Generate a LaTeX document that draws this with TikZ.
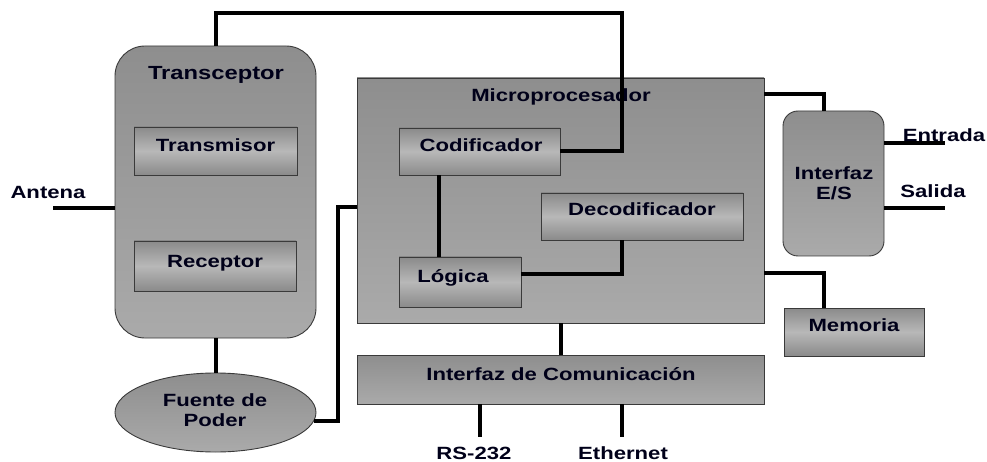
\documentclass[tikz,border=0pt]{standalone}
\usepackage{fontspec}
\setmainfont{Liberation Sans}[FakeStretch=1.25]
\usetikzlibrary{shapes.geometric}
\definecolor{outtop}{HTML}{8E8E8E}
\definecolor{outbot}{HTML}{AAAAAA}
\definecolor{inedge}{HTML}{8A8A8A}
\definecolor{inmid}{HTML}{B8B8B8}
\definecolor{edge}{HTML}{3A3A3A}
\tikzset{
  outer/.style={draw=edge, line width=0.9pt, top color=outtop, bottom color=outbot, inner sep=0pt},
  inner/.style={draw=edge, line width=0.9pt, top color=inedge, bottom color=inedge, middle color=inmid, inner sep=0pt},
  wire/.style={line width=4pt, black},
  txt/.style={anchor=base, inner sep=0pt, font=\fontsize{17.7}{20}\selectfont\bfseries, text=black!90!blue},
}
\begin{document}
\begin{tikzpicture}[x=1pt,y=-1pt]
\useasboundingbox (0,0) rectangle (987,462);
% boxes
\node[outer, rounded corners=30pt, minimum width=201pt, minimum height=292pt] (trans) at (215.5,192) {};
\node[inner, minimum width=163pt, minimum height=48pt] (tx) at (215.5,151) {};
\node[inner, minimum width=162pt, minimum height=50pt] (rx) at (215,266) {};
\node[outer, ellipse, minimum width=201pt, minimum height=79pt] (fuente) at (215.5,412.5) {};
\node[outer, minimum width=407pt, minimum height=245pt] (micro) at (560.5,200.5) {};
\node[inner, minimum width=161pt, minimum height=47pt] (cod) at (479.5,151.5) {};
\node[inner, minimum width=122pt, minimum height=50pt] (log) at (460,282) {};
\node[inner, minimum width=202pt, minimum height=47pt] (dec) at (642,216.5) {};
\node[outer, minimum width=407pt, minimum height=49pt] (com) at (560.5,379.5) {};
\node[outer, rounded corners=15pt, minimum width=101pt, minimum height=145pt] (es) at (833.5,183.5) {};
\node[inner, minimum width=140pt, minimum height=48pt] (mem) at (854,332) {};
% labels
\node[txt, font=\fontsize{19}{22}\selectfont\bfseries] (ttrans) at (216,80) {Transceptor};
\node[txt] (ttx) at (215.5,152) {Transmisor};
\node[txt] (trx) at (215,267) {Receptor};
\node[txt] (tf1) at (215,406) {Fuente de};
\node[txt] (tf2) at (215,426) {Poder};
\node[txt] (tmicro) at (561,102) {Microprocesador};
\node[txt] (tcod) at (481,152) {Codificador};
\node[txt] (tdec) at (642,216) {Decodificador};
\node[txt] (tlog) at (453,282) {Lógica};
\node[txt] (tcom) at (561,380) {Interfaz de Comunicación};
\node[txt] (tes1) at (834,180) {Interfaz};
\node[txt] (tes2) at (834,200) {E/S};
\node[txt] (tmem) at (854,331) {Memoria};
\node[txt] (tant) at (48,199) {Antena};
\node[txt] (tent) at (944,142) {Entrada};
\node[txt] (tsal) at (933,198) {Salida};
\node[txt] (trs) at (474,459) {RS-232};
\node[txt] (teth) at (623,459) {Ethernet};
% wire coordinates
\coordinate (w1) at (622,13);
\coordinate (w2) at (338,207);
\coordinate (w4) at (824,94);
\coordinate (w5) at (824,273);
\coordinate (w6) at (622,274);
\coordinate (w7) at (439,200);
\coordinate (w8) at (480,437);
\coordinate (w9) at (622,437);
\coordinate (ant) at (53,208);
\coordinate (ent) at (945,143);
\coordinate (sal) at (945,208);
% wires
\draw[wire] (trans.north) |- (w1) |- (cod.east);
\draw[wire] (ant) -- (ant -| trans.west);
\draw[wire] (trans.south) -- (fuente.north);
\draw[wire] (w2 -| micro.west) -- (w2) |- (fuente.-5);
\draw[wire] (cod.south -| w7) -- (log.north -| w7);
\draw[wire] (w6 |- dec.south) -- (w6) -- (w6 -| log.east);
\draw[wire] (micro.south) -- (com.north);
\draw[wire] (w8 |- com.south) -- (w8);
\draw[wire] (w9 |- com.south) -- (w9);
\draw[wire] (w4 -| micro.east) -- (w4) -- (w4 |- es.north);
\draw[wire] (w5 -| micro.east) -- (w5) -- (w5 |- mem.north);
\draw[wire] (ent -| es.east) -- (ent);
\draw[wire] (sal -| es.east) -- (sal);
\end{tikzpicture}
\end{document}
